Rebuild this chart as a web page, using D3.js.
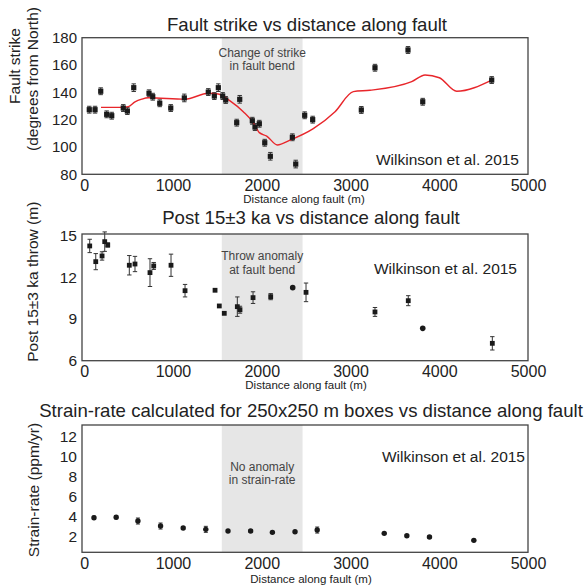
<!DOCTYPE html>
<html><head><meta charset="utf-8">
<script src="https://cdn.jsdelivr.net/npm/d3@7"></script>
<style>
body{margin:0;background:#fff;}
text{font-family:"Liberation Sans",Arial,Helvetica,sans-serif;}
</style></head>
<body><svg id="c" width="585" height="586"></svg>
<script>
// ---- Panel 1: fault strike ----
const strikeDist = [57,122,186,253,310,440,486,558,730,772,851,975,1128,1398,1466,1511,1560,1594,1718,1752,1894,1924,1973,2034,2097,2345,2383,2484,2574,3122,3276,3648,3814,4591];
const strikeVal  = [127.3,127.3,140.8,123.9,122.9,128.5,126.3,143.4,139.3,136.8,132.0,128.5,135.9,140.2,137.3,143.4,137.3,134.4,117.8,134.9,119.2,114.6,117.0,103.1,93.2,107.1,87.5,123.2,120.0,127.1,158.0,171.0,133.1,149.0];
const strikeErr  = [2.5,2.5,2.5,2.5,2.5,2.5,2.5,2.8,2.5,2.5,2.5,2.5,2.8,2.5,2.5,2.8,2.5,2.5,2.5,2.8,2.5,2.5,2.5,2.5,2.8,2.5,2.8,2.5,2.5,2.5,2.5,2.5,2.5,2.5];
const trendDist  = [189,403,497,572,648,722,1136,1398,1511,1643,1792,1905,1973,2056,2176,2319,2581,2826,3032,3220,3690,3840,4001,4197,4591];
const trendVal   = [129,129,129.5,133,135,136,135,139.3,138.8,133.7,125.8,117.8,110.5,108,101.5,105,113.4,125.8,140.5,141.5,147.8,152.7,150.7,140.8,149];
const strikeTicks = [80,100,120,140,160,180];

// ---- Panel 2: throw ----
const throwDist = [62,130,201,231,265,508,572,741,783,978,1136,1474,1522,1578,1725,1755,1902,2101,2349,2499,3276,3651,3814,4598];
const throwVal  = [14.26,13.13,13.54,14.57,14.33,12.87,12.96,12.34,12.82,12.87,11.04,11.07,9.94,9.41,9.89,9.67,10.54,10.61,11.26,10.92,9.51,10.32,8.33,7.25];
const throwErr  = [0.48,0.58,0.3,0.7,0.15,0.7,0.55,1.0,0.25,0.8,0.45,0,0,0,0.7,0.25,0.42,0.22,0,0.67,0.32,0.36,0,0.48];
const throwShape= ["s","s","s","s","s","s","s","s","s","s","s","s","s","s","s","s","s","s","c","s","s","s","c","s"];
const throwTicks = [6,9,12,15];

// ---- Panel 3: strain-rate ----
const strainDist = [110,360,605,860,1115,1370,1620,1875,2120,2375,2625,3380,3635,3890,4390];
const strainVal  = [3.9,3.94,3.57,3.07,2.87,2.74,2.57,2.57,2.44,2.5,2.67,2.34,2.1,1.97,1.64];
const strainErr  = [0.15,0.15,0.3,0.3,0.15,0.3,0.12,0.12,0.1,0.1,0.3,0.1,0.1,0.1,0.1];
const strainTicks = [2,4,6,8,10,12];

const bendStart = 1550, bendEnd = 2460;
const xTicks = [0,1000,2000,3000,4000,5000];

const svg = d3.select("#c");
const FONT = '"Liberation Sans",Arial,Helvetica,sans-serif';

function panel(cfg){
  const g = svg.append("g");
  const x = d3.scaleLinear().domain([-25,5000]).range([82,528]);
  const y = d3.scaleLinear().domain(cfg.yDomain).range([cfg.bottom, cfg.top]);
  g.append("rect").attr("x",x(bendStart)).attr("y",cfg.top)
    .attr("width",x(bendEnd)-x(bendStart)).attr("height",cfg.bottom-cfg.top)
    .attr("fill","#e6e6e6");
  const ya = g.append("g").attr("transform","translate(82,0)")
    .call(d3.axisLeft(y).tickValues(cfg.yTicks).tickSize(0).tickPadding(5).tickFormat(d3.format("d")));
  ya.select(".domain").remove();
  ya.selectAll("text").attr("font-size",cfg.yTickSize||15).attr("font-family",FONT).attr("fill","#222");
  const xa = g.append("g").attr("transform",`translate(0,${cfg.bottom})`)
    .call(d3.axisBottom(x).tickValues(xTicks).tickSize(0).tickPadding(5).tickFormat(d3.format("d")));
  xa.select(".domain").remove();
  xa.selectAll("text").attr("font-size",16).attr("font-family",FONT).attr("fill","#222");
  cfg.note.forEach((t,i)=>{
    g.append("text").attr("x",x((bendStart+bendEnd)/2)).attr("y",cfg.noteY+i*13.5)
      .attr("text-anchor","middle").attr("font-size",12).attr("fill","#444").text(t);
  });
  g.append("text").attr("x",cfg.srcX).attr("y",cfg.srcY).attr("text-anchor","end")
    .attr("font-size",15.5).attr("fill","#222").text("Wilkinson et al. 2015");
  g.append("text").attr("x",cfg.titleX).attr("y",cfg.titleY).attr("text-anchor","middle")
    .attr("font-size",18.6).attr("fill","#222").text(cfg.title);
  g.append("text").attr("x",cfg.xlabX).attr("y",cfg.xlabY).attr("text-anchor","middle")
    .attr("font-size",11.5).attr("fill","#222").text("Distance along fault (m)");
  cfg.ylab.forEach(l=>{
    g.append("text").attr("transform",`translate(${l.x},${l.y}) rotate(-90)`)
      .attr("text-anchor","middle").attr("font-size",15.5).attr("fill","#222").text(l.t);
  });
  return {g,x,y};
}

function errBars(g,x,y,dist,val,err,cap){
  dist.forEach((d,i)=>{
    if(!err[i]) return;
    const px=x(d), y1=y(val[i]+err[i]), y2=y(val[i]-err[i]);
    g.append("line").attr("x1",px).attr("x2",px).attr("y1",y1).attr("y2",y2).attr("stroke","#333").attr("stroke-width",1);
    g.append("line").attr("x1",px-cap).attr("x2",px+cap).attr("y1",y1).attr("y2",y1).attr("stroke","#333").attr("stroke-width",1);
    g.append("line").attr("x1",px-cap).attr("x2",px+cap).attr("y1",y2).attr("y2",y2).attr("stroke","#333").attr("stroke-width",1);
  });
}

// Panel 1
{
  const p = panel({top:37.7,bottom:174.3,yDomain:[80,180],yTicks:strikeTicks,yTickSize:15,
    note:["Change of strike","in fault bend"],noteY:56.5,srcX:519,srcY:165,
    title:"Fault strike vs distance along fault",titleX:307,titleY:30.5,xlabX:304,xlabY:203,
    ylab:[{t:"Fault strike",x:20,y:66},{t:"(degrees from North)",x:37.5,y:79}]});
  errBars(p.g,p.x,p.y,strikeDist,strikeVal,strikeErr,2.2);
  p.g.append("path").datum(d3.zip(trendDist,trendVal))
    .attr("d",d3.line().x(d=>p.x(d[0])).y(d=>p.y(d[1])).curve(d3.curveMonotoneX))
    .attr("fill","none").attr("stroke","#e8262b").attr("stroke-width",1.4);
  p.g.selectAll("rect.m").data(d3.zip(strikeDist,strikeVal)).join("rect").attr("class","m")
    .attr("x",d=>p.x(d[0])-2.6).attr("y",d=>p.y(d[1])-2.6).attr("width",5.2).attr("height",5.2).attr("fill","#1a1a1a");
  p.g.append("rect").attr("x",82).attr("y",37.7).attr("width",446).attr("height",174.3-37.7)
    .attr("fill","none").attr("stroke","#444").attr("stroke-width",1.3);
}
// Panel 2
{
  const p = panel({top:234,bottom:360.7,yDomain:[6,15.12],yTicks:throwTicks,yTickSize:15.5,
    note:["Throw anomaly","at fault bend"],noteY:260,srcX:517,srcY:274,
    title:"Post 15\u00b13 ka vs distance along fault",titleX:311,titleY:224.3,xlabX:306,xlabY:388.5,
    ylab:[{t:"Post 15\u00b13 ka throw (m)",x:38,y:281.7}]});
  errBars(p.g,p.x,p.y,throwDist,throwVal,throwErr,2.2);
  const pts = d3.range(throwDist.length).map(i=>({d:throwDist[i],v:throwVal[i],s:throwShape[i]}));
  p.g.selectAll("rect.m").data(pts.filter(q=>q.s==="s")).join("rect").attr("class","m")
    .attr("x",q=>p.x(q.d)-2.4).attr("y",q=>p.y(q.v)-2.4).attr("width",4.8).attr("height",4.8).attr("fill","#1a1a1a");
  p.g.selectAll("circle.m").data(pts.filter(q=>q.s==="c")).join("circle").attr("class","m")
    .attr("cx",q=>p.x(q.d)).attr("cy",q=>p.y(q.v)).attr("r",2.8).attr("fill","#1a1a1a");
  p.g.append("rect").attr("x",82).attr("y",234).attr("width",446).attr("height",360.7-234)
    .attr("fill","none").attr("stroke","#444").attr("stroke-width",1.3);
}
// Panel 3
{
  const p = panel({top:425,bottom:552.3,yDomain:[0.45,13.15],yTicks:strainTicks,yTickSize:15.5,
    note:["No anomaly","in strain-rate"],noteY:470.5,srcX:525,srcY:462,
    title:"Strain-rate calculated for 250x250 m boxes vs distance along fault",titleX:311,titleY:416.7,xlabX:311,xlabY:583,
    ylab:[{t:"Strain-rate (ppm/yr)",x:38.5,y:490}]});
  errBars(p.g,p.x,p.y,strainDist,strainVal,strainErr,2);
  p.g.selectAll("circle.m").data(d3.zip(strainDist,strainVal)).join("circle").attr("class","m")
    .attr("cx",d=>p.x(d[0])).attr("cy",d=>p.y(d[1])).attr("r",2.7).attr("fill","#1a1a1a");
  p.g.append("rect").attr("x",82).attr("y",425).attr("width",446).attr("height",552.3-425)
    .attr("fill","none").attr("stroke","#444").attr("stroke-width",1.3);
}
</script></body></html>
